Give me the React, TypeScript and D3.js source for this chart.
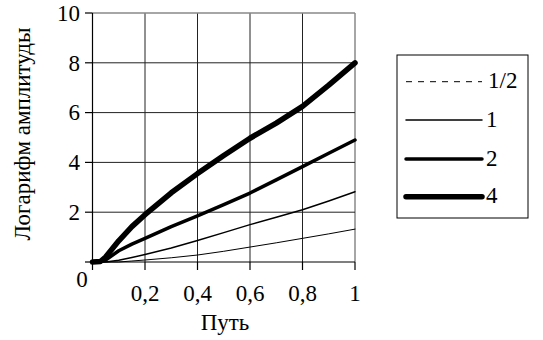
import React from "react";
import * as d3 from "d3";

const xs = [0, 0.03, 0.05, 0.1, 0.15, 0.2, 0.3, 0.4, 0.5, 0.6, 0.7, 0.8, 0.9, 1];
const sHalf = [0, 0, 0, 0, 0.04, 0.08, 0.17, 0.28, 0.43, 0.6, 0.77, 0.95, 1.13, 1.32];
const s1 = [0, 0, 0, 0.07, 0.18, 0.3, 0.56, 0.86, 1.18, 1.5, 1.8, 2.1, 2.45, 2.82];
const s2 = [0, 0.01, 0.08, 0.45, 0.72, 0.95, 1.42, 1.85, 2.3, 2.77, 3.3, 3.83, 4.37, 4.9];
const s4 = [0, 0.02, 0.2, 0.85, 1.42, 1.9, 2.78, 3.55, 4.28, 4.97, 5.58, 6.25, 7.1, 8.0];

const seriesNames = ["1/2", "1", "2", "4"];
const seriesValues = [sHalf, s1, s2, s4];
const seriesWidths = [1, 1.5, 3.5, 5.5];

const xTicks = [0.2, 0.4, 0.6, 0.8, 1];
const xTickLabels = ["0,2", "0,4", "0,6", "0,8", "1"];
const yTicks = [0, 2, 4, 6, 8, 10];
const yTickLabels = ["", "2", "4", "6", "8", "10"];

function T(props: { x?: number; y?: number; anchor?: string; transform?: string; children: React.ReactNode }) {
  return (
    <text
      x={props.x}
      y={props.y}
      transform={props.transform}
      textAnchor={props.anchor || "start"}
      fontFamily="Liberation Serif"
      fontSize={23}
      fill="#000"
      style={{ fontFamily: '"Liberation Serif"', fontSize: "23px" }}
    >
      {props.children}
    </text>
  );
}

export default function App() {
  const W = 543, H = 340;
  const x = d3.scaleLinear().domain([0, 1]).range([92.5, 355]);
  const y = d3.scaleLinear().domain([0, 10]).range([262, 13]);
  const line = d3
    .line<number>()
    .x((_, i) => x(xs[i]))
    .y((d) => y(d));

  const legendX0 = 397, legendY0 = 55, legendW = 131, legendH = 163;
  const legendRows = [81.7, 120, 159, 196.7];

  return (
    <svg
      width={W}
      height={H}
      fontFamily="Liberation Serif"
      style={{ position: "absolute", left: 0, top: 0, background: "#fff", fontFamily: '"Liberation Serif"' }}
    >
      <rect x={0} y={0} width={W} height={H} fill="#fff" />
      {xTicks.map((t) => (
        <line key={"gx" + t} x1={x(t)} x2={x(t)} y1={y(10)} y2={y(0)} stroke={t === 1 ? "#888" : "#222"} strokeWidth={t === 1 ? 1.5 : 1} />
      ))}
      {yTicks.filter((t) => t > 0).map((t) => (
        <line key={"gy" + t} x1={x(0)} x2={x(1)} y1={y(t)} y2={y(t)} stroke={t === 10 ? "#888" : "#222"} strokeWidth={t === 10 ? 1.5 : 1} />
      ))}
      <line x1={x(0)} x2={x(0)} y1={y(10)} y2={y(0)} stroke="#000" strokeWidth={1.2} />
      <line x1={x(0)} x2={x(1)} y1={y(0)} y2={y(0)} stroke="#000" strokeWidth={1.2} />
      {yTicks.map((t) => (
        <line key={"ty" + t} x1={85} x2={x(0)} y1={y(t)} y2={y(t)} stroke="#000" strokeWidth={1.2} />
      ))}
      {[0, ...xTicks].map((t) => (
        <line key={"tx" + t} x1={x(t)} x2={x(t)} y1={y(0)} y2={270} stroke="#000" strokeWidth={1.2} />
      ))}
      {yTicks.map((t, i) =>
        yTickLabels[i] ? (
          <T key={"ly" + t} x={80} y={y(t) + 7.7} anchor="end">
            {yTickLabels[i]}
          </T>
        ) : null
      )}
      <T x={82} y={287} anchor="middle">0</T>
      {xTicks.map((t, i) => (
        <T key={"lx" + t} x={x(t)} y={301} anchor="middle">
          {xTickLabels[i]}
        </T>
      ))}
      <T x={225} y={330} anchor="middle">Путь</T>
      <T transform="translate(30,134) rotate(-90)" anchor="middle">
        Логарифм амплитуды
      </T>
      {seriesValues.map((vals, i) => (
        <path
          key={"s" + i}
          d={line(vals) || ""}
          fill="none"
          stroke="#000"
          strokeWidth={seriesWidths[i]}
          strokeLinejoin="round"
          strokeLinecap="round"
        />
      ))}
      <rect x={legendX0} y={legendY0} width={legendW} height={legendH} fill="#fff" stroke="#000" strokeWidth={1} />
      {seriesNames.map((n, i) => (
        <g key={"lg" + n}>
          <line
            x1={406}
            x2={482}
            y1={legendRows[i]}
            y2={legendRows[i]}
            stroke="#000"
            strokeWidth={seriesWidths[i]}
            strokeDasharray={i === 0 ? "6,6" : undefined}
            strokeLinecap={i === 0 ? "butt" : "round"}
          />
          <T x={i === 0 ? 488 : 486} y={legendRows[i] + 6.5}>
            {n}
          </T>
        </g>
      ))}
    </svg>
  );
}
